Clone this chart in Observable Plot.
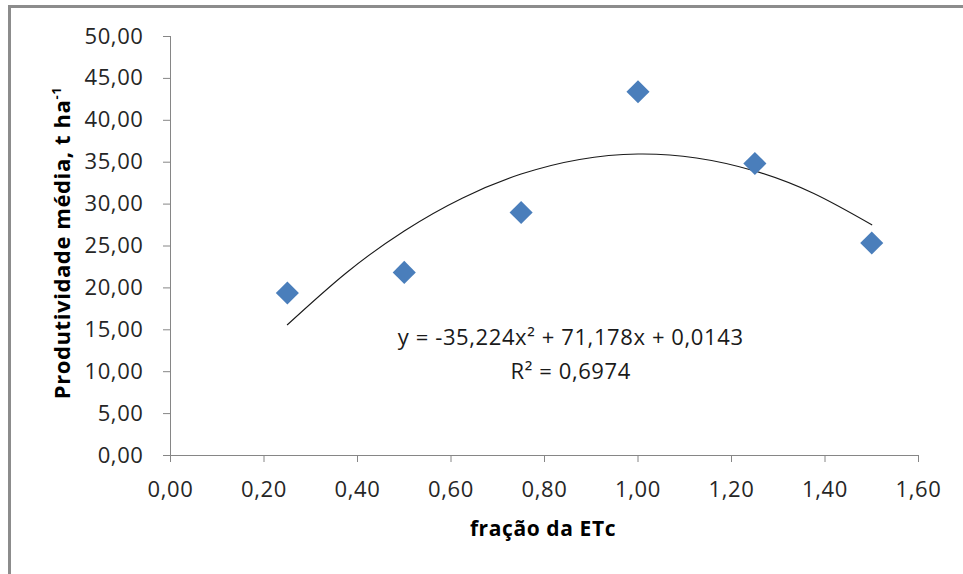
<!DOCTYPE html>
<html>
<head>
<meta charset="utf-8">
<script src="https://cdn.jsdelivr.net/npm/d3@7"></script>
<script src="https://cdn.jsdelivr.net/npm/@observablehq/plot@0.6"></script>
<style>
  html, body { margin: 0; padding: 0; background: #fff; }
  #wrap { position: relative; width: 963px; height: 574px; overflow: hidden; background: #fff; }
  #frame { position: absolute; left: 8px; top: 5px; width: 1100px; height: 1100px; border: 3px solid #8c8c8c; box-sizing: border-box; }
  #chart { position: absolute; left: 0; top: 0; }
  #chart svg text { letter-spacing: 0.6px; }
  #chart svg g[aria-label$="tick"], #chart svg .tick line { stroke: #868686; }
</style>
</head>
<body>
<div id="wrap"><div id="frame"></div><div id="chart"></div></div>
<script>
// Data
const xTicks = [0, 0.2, 0.4, 0.6, 0.8, 1.0, 1.2, 1.4, 1.6];
const yTicks = [0, 5, 10, 15, 20, 25, 30, 35, 40, 45, 50];
const fracao = [0.25, 0.5, 0.75, 1.0, 1.25, 1.5];
const produtividade = [19.4, 21.85, 29.0, 43.4, 34.85, 25.35];
// Polynomial trendline, read at regular points along the drawn curve
const trendX = [0.25, 0.375, 0.5, 0.625, 0.75, 0.875, 1.0, 1.125, 1.25, 1.375, 1.5];
const trendY = [15.6, 21.75, 26.8, 30.74, 33.58, 35.33, 35.97, 35.51, 33.95, 31.29, 27.53];
const equationText = "y = -35,224x² + 71,178x + 0,0143";
const r2Text = "R² = 0,6974";
const xLabel = "fração da ETc";
const yLabel = "Produtividade média, t ha";
const yLabelSup = "-1";

const fmt = d => d.toFixed(2).replace(".", ",");
const points = fracao.map((x, i) => ({x, y: produtividade[i]}));
const trend = trendX.map((x, i) => ({x, y: trendY[i]}));

const plot = Plot.plot({
  width: 963,
  height: 574,
  marginLeft: 170,
  marginRight: 45,
  marginTop: 36,
  marginBottom: 119,
  style: {fontFamily: "'Open Sans', sans-serif", fontSize: "22px", color: "#262626", background: "transparent", overflow: "visible"},
  x: {domain: [0, 1.6], ticks: xTicks, tickFormat: fmt, tickSize: 7, tickPadding: 19, label: null},
  y: {domain: [0, 50], ticks: yTicks, tickFormat: fmt, tickSize: 7, tickPadding: 20, label: null},
  marks: [
    Plot.ruleX([0], {stroke: "#868686", strokeWidth: 1}),
    Plot.ruleY([0], {stroke: "#868686", strokeWidth: 1}),
    Plot.line(trend, {x: "x", y: "y", curve: "natural", stroke: "#1a1a1a", strokeWidth: 1.1}),
    Plot.dot(points, {x: "x", y: "y", symbol: "diamond2", r: 10.4, fill: "#4a7ebb", stroke: "none"}),
    Plot.text([equationText], {x: () => 0.856, y: () => 14.0, text: d => d, fill: "#1a1a1a", fontSize: 22, textAnchor: "middle"}),
    Plot.text([r2Text], {x: () => 0.856, y: () => 9.95, text: d => d, fill: "#1a1a1a", fontSize: 22, textAnchor: "middle"})
  ]
});
document.getElementById("chart").appendChild(plot);

const svg = d3.select(plot);
svg.append("text")
  .attr("x", 543).attr("y", 536)
  .attr("text-anchor", "middle")
  .attr("font-family", "'Open Sans', sans-serif")
  .attr("font-weight", "bold")
  .attr("font-size", 21)
  .attr("fill", "#000")
  .text(xLabel);

const yl = svg.append("text")
  .attr("transform", "translate(70,243) rotate(-90)")
  .attr("text-anchor", "middle")
  .attr("font-family", "'Open Sans', sans-serif")
  .attr("font-weight", "bold")
  .attr("font-size", 22)
  .attr("fill", "#000");
yl.append("tspan").text(yLabel);
yl.append("tspan").attr("font-size", 13).attr("dy", -9).text(yLabelSup);
</script>
</body>
</html>
